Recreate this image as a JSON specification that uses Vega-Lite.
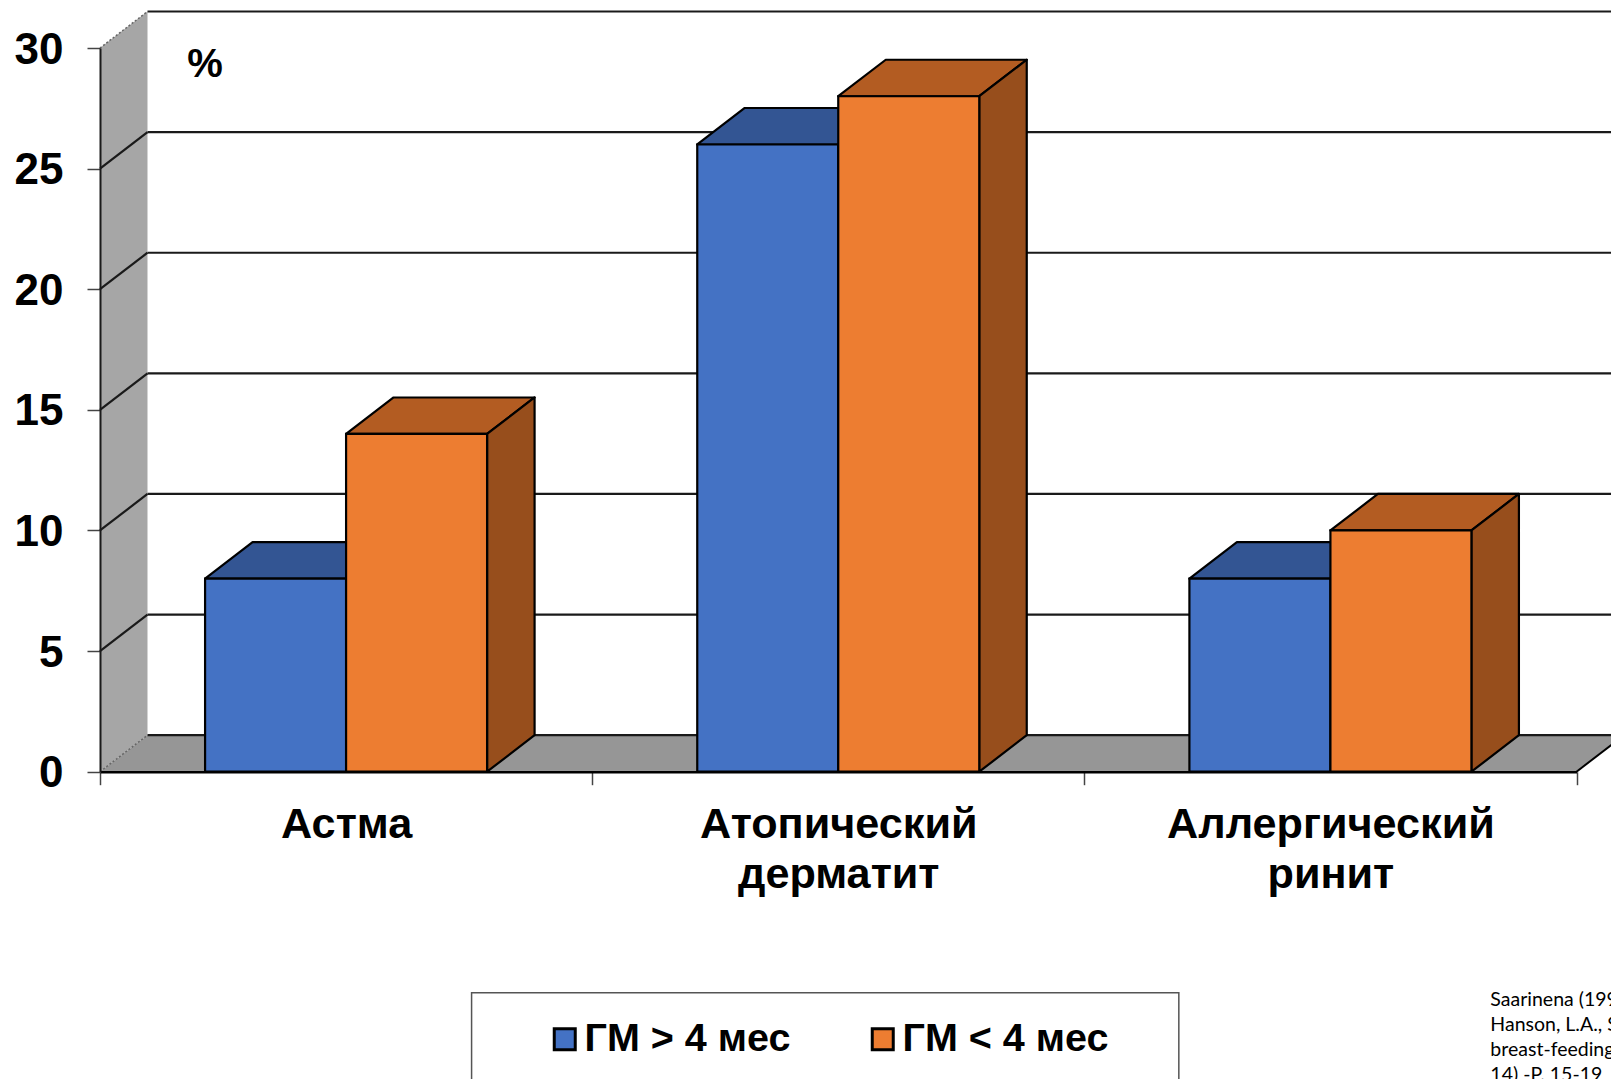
{
  "$schema": "https://vega.github.io/schema/vega-lite/v6.json",
  "width": 1476.5,
  "height": 723.7,
  "autosize": {"type": "none"},
  "padding": {"left": 100, "top": 48, "right": 34.5, "bottom": 307.3},
  "background": "white",
  "config": {
    "view": {"stroke": null},
    "font": "Liberation Sans"
  },
  "datasets": {
    "bars": [
      {"category": "Астма", "series": "ГМ > 4 мес", "value": 8},
      {"category": "Астма", "series": "ГМ < 4 мес", "value": 14},
      {"category": "Атопический дерматит", "series": "ГМ > 4 мес", "value": 26},
      {"category": "Атопический дерматит", "series": "ГМ < 4 мес", "value": 28},
      {"category": "Аллергический ринит", "series": "ГМ > 4 мес", "value": 8},
      {"category": "Аллергический ринит", "series": "ГМ < 4 мес", "value": 10}
    ],
    "levels": [
      {"level": 0}, {"level": 5}, {"level": 10}, {"level": 15}, {"level": 20}, {"level": 25}, {"level": 30}
    ]
  },
  "resolve": {"scale": {"x": "independent", "color": "independent"}},
  "layer": [
    {
      "description": "Left wall of the chart box",
      "data": {"values": [{"t": 0}, {"t": 1}]},
      "transform": [
        {"calculate": "datum.t * 0.0965", "as": "xw"},
        {"calculate": "datum.t * 1.513", "as": "low"},
        {"calculate": "30 + datum.t * 1.513", "as": "high"}
      ],
      "mark": {"type": "area", "fill": "#A6A6A6", "stroke": null, "opacity": 1},
      "encoding": {
        "x": {"field": "xw", "type": "quantitative", "scale": {"domain": [0, 3], "nice": false}, "axis": null},
        "y": {
          "field": "low",
          "type": "quantitative",
          "title": null,
          "scale": {"domain": [0, 30], "nice": false},
          "axis": {
            "title": null,
            "values": [0, 5, 10, 15, 20, 25, 30],
            "grid": false,
            "zindex": 1,
            "domainColor": "#1a1a1a",
            "domainWidth": 2,
            "tickColor": "#444444",
            "tickWidth": 1.5,
            "tickSize": 13,
            "labelFont": "Liberation Sans",
            "labelFontWeight": "bold",
            "labelFontSize": 44,
            "labelColor": "black",
            "labelPadding": 24,
            "labelOffset": 2,
            "labelOverlap": false,
            "labelFlush": false
          }
        },
        "y2": {"field": "high"}
      }
    },
    {
      "description": "Floor of the chart box",
      "data": {"values": [{"t": 0}, {"t": 1}]},
      "transform": [
        {"calculate": "datum.t * 0.0965", "as": "xa"},
        {"calculate": "3 + datum.t * 0.0965", "as": "xb"},
        {"calculate": "datum.t * 1.513", "as": "yf"}
      ],
      "mark": {"type": "area", "orient": "horizontal", "fill": "#969696", "stroke": null, "opacity": 1},
      "encoding": {
        "x": {"field": "xa", "type": "quantitative", "scale": {"domain": [0, 3], "nice": false}, "axis": null},
        "x2": {"field": "xb"},
        "y": {"field": "yf", "type": "quantitative", "title": null}
      }
    },
    {
      "description": "Gridlines along the back wall",
      "data": {"name": "levels"},
      "transform": [
        {"calculate": "datum.level + 1.513", "as": "yb"},
        {"calculate": "0.0965", "as": "xa"},
        {"calculate": "3.0965", "as": "xb"}
      ],
      "mark": {"type": "rule", "stroke": "#1a1a1a", "strokeWidth": 2.2},
      "encoding": {
        "x": {"field": "xa", "type": "quantitative", "scale": {"domain": [0, 3], "nice": false}, "axis": null},
        "x2": {"field": "xb"},
        "y": {"field": "yb", "type": "quantitative", "title": null}
      }
    },
    {
      "description": "Gridlines climbing the left wall",
      "data": {"name": "levels"},
      "transform": [
        {"filter": "datum.level > 0 && datum.level < 30"},
        {"calculate": "datum.level + 1.513", "as": "yb"},
        {"calculate": "0", "as": "xa"},
        {"calculate": "0.0965", "as": "xb"}
      ],
      "mark": {"type": "rule", "stroke": "#1a1a1a", "strokeWidth": 2.2},
      "encoding": {
        "x": {"field": "xa", "type": "quantitative", "scale": {"domain": [0, 3], "nice": false}, "axis": null},
        "x2": {"field": "xb"},
        "y": {"field": "level", "type": "quantitative", "title": null},
        "y2": {"field": "yb"}
      }
    },
    {
      "description": "Dotted top and bottom edges of the left wall",
      "data": {"name": "levels"},
      "transform": [
        {"filter": "datum.level == 0 || datum.level == 30"},
        {"calculate": "datum.level + 1.513", "as": "yb"},
        {"calculate": "0", "as": "xa"},
        {"calculate": "0.0965", "as": "xb"}
      ],
      "mark": {"type": "rule", "stroke": "#666666", "strokeWidth": 1.5, "strokeDash": [2, 2]},
      "encoding": {
        "x": {"field": "xa", "type": "quantitative", "scale": {"domain": [0, 3], "nice": false}, "axis": null},
        "x2": {"field": "xb"},
        "y": {"field": "level", "type": "quantitative", "title": null},
        "y2": {"field": "yb"}
      }
    },
    {
      "description": "Right edge of the floor",
      "data": {"values": [{"xa": 3, "xb": 3.0965, "ya": 0, "yb": 1.513}]},
      "mark": {"type": "rule", "stroke": "black", "strokeWidth": 2},
      "encoding": {
        "x": {"field": "xa", "type": "quantitative", "scale": {"domain": [0, 3], "nice": false}, "axis": null},
        "x2": {"field": "xb"},
        "y": {"field": "ya", "type": "quantitative", "title": null},
        "y2": {"field": "yb"}
      }
    },
    {
      "description": "Invisible layer that carries the category axis",
      "data": {"name": "bars"},
      "mark": {"type": "rule", "opacity": 0},
      "encoding": {
        "x": {
          "field": "category",
          "type": "nominal",
          "sort": ["Астма", "Атопический дерматит", "Аллергический ринит"],
          "scale": {"paddingInner": 0, "paddingOuter": 0},
          "axis": {
            "title": null,
            "tickBand": "extent",
            "labelAngle": 0,
            "labelExpr": "split(datum.label, ' ')",
            "labelFont": "Liberation Sans",
            "labelFontWeight": "bold",
            "labelFontSize": 43.2,
            "labelLineHeight": 50,
            "labelColor": "black",
            "labelPadding": 19,
            "labelLimit": 600,
            "labelBaseline": "top",
            "labelOverlap": false,
            "labelFlush": false,
            "domainColor": "black",
            "domainWidth": 2.5,
            "tickColor": "#444444",
            "tickWidth": 1.5,
            "tickSize": 13,
            "zindex": 1
          }
        }
      }
    },
    {
      "description": "Top faces of the boxes",
      "data": {"name": "bars"},
      "transform": [
        {"calculate": "indexof(['Астма', 'Атопический дерматит', 'Аллергический ринит'], datum.category)", "as": "idx"},
        {"calculate": "datum.idx + 0.5 - (datum.series === 'ГМ > 4 мес' ? 0.2865 : 0)", "as": "left"},
        {"calculate": "[0, 1]", "as": "t"},
        {"flatten": ["t"]},
        {"calculate": "datum.left + datum.t * 0.0965", "as": "xa"},
        {"calculate": "datum.left + 0.2865 + datum.t * 0.0965", "as": "xb"},
        {"calculate": "datum.value + datum.t * 1.513", "as": "yt"}
      ],
      "mark": {"type": "area", "orient": "horizontal", "stroke": "black", "strokeWidth": 2.2, "strokeJoin": "round", "opacity": 1},
      "encoding": {
        "x": {"field": "xa", "type": "quantitative", "scale": {"domain": [0, 3], "nice": false}, "axis": null},
        "x2": {"field": "xb"},
        "y": {"field": "yt", "type": "quantitative", "title": null},
        "detail": {"field": "left"},
        "color": {
          "field": "series",
          "type": "nominal",
          "scale": {"domain": ["ГМ > 4 мес", "ГМ < 4 мес"], "range": ["#335593", "#B35C22"]},
          "legend": null
        }
      }
    },
    {
      "description": "Side faces of the boxes",
      "data": {"name": "bars"},
      "transform": [
        {"calculate": "indexof(['Астма', 'Атопический дерматит', 'Аллергический ринит'], datum.category)", "as": "idx"},
        {"calculate": "datum.idx + 0.5 - (datum.series === 'ГМ > 4 мес' ? 0.2865 : 0)", "as": "left"},
        {"calculate": "[0, 1]", "as": "t"},
        {"flatten": ["t"]},
        {"calculate": "datum.left + 0.2865 + datum.t * 0.0965", "as": "xs"},
        {"calculate": "datum.value + datum.t * 1.513", "as": "yhigh"},
        {"calculate": "datum.t * 1.513", "as": "ylow"}
      ],
      "mark": {"type": "area", "stroke": "black", "strokeWidth": 2.2, "strokeJoin": "round", "opacity": 1},
      "encoding": {
        "x": {"field": "xs", "type": "quantitative", "scale": {"domain": [0, 3], "nice": false}, "axis": null},
        "y": {"field": "yhigh", "type": "quantitative", "title": null},
        "y2": {"field": "ylow"},
        "detail": {"field": "left"},
        "color": {
          "field": "series",
          "type": "nominal",
          "scale": {"domain": ["ГМ > 4 мес", "ГМ < 4 мес"], "range": ["#2F4A80", "#974E1C"]},
          "legend": null
        }
      }
    },
    {
      "description": "Frame around the legend",
      "data": {"values": [{"x0": 0.755, "x1": 2.192, "y0": -9.163, "y1": -15}]},
      "mark": {"type": "rect", "fill": "white", "stroke": "#555555", "strokeWidth": 1.5},
      "encoding": {
        "x": {"field": "x0", "type": "quantitative", "scale": {"domain": [0, 3], "nice": false}, "axis": null},
        "x2": {"field": "x1"},
        "y": {"field": "y0", "type": "quantitative", "title": null},
        "y2": {"field": "y1"}
      }
    },
    {
      "description": "Front faces of the boxes, with the series legend",
      "data": {"name": "bars"},
      "transform": [
        {"calculate": "indexof(['Астма', 'Атопический дерматит', 'Аллергический ринит'], datum.category)", "as": "idx"},
        {"calculate": "datum.idx + 0.5 - (datum.series === 'ГМ > 4 мес' ? 0.2865 : 0)", "as": "left"},
        {"calculate": "datum.left + 0.2865", "as": "right"},
        {"calculate": "0", "as": "base"}
      ],
      "mark": {"type": "rect", "stroke": "black", "strokeWidth": 2.2, "opacity": 1},
      "encoding": {
        "x": {"field": "left", "type": "quantitative", "scale": {"domain": [0, 3], "nice": false}, "axis": null},
        "x2": {"field": "right"},
        "y": {"field": "value", "type": "quantitative", "title": null},
        "y2": {"field": "base"},
        "color": {
          "field": "series",
          "type": "nominal",
          "scale": {"domain": ["ГМ > 4 мес", "ГМ < 4 мес"], "range": ["#4472C4", "#ED7D31"]},
          "legend": {
            "title": null,
            "orient": "none",
            "legendX": 445,
            "legendY": 971,
            "direction": "horizontal",
            "columns": 2,
            "padding": 0,
            "columnPadding": 72,
            "symbolType": "square",
            "symbolSize": 441,
            "symbolStrokeColor": "black",
            "symbolStrokeWidth": 3,
            "symbolOpacity": 1,
            "labelFont": "Liberation Sans",
            "labelFontWeight": "bold",
            "labelFontSize": 39.5,
            "labelColor": "black",
            "labelOffset": 0,
            "labelLimit": 400
          }
        }
      }
    },
    {
      "description": "Unit marker in the corner of the back wall",
      "data": {"values": [{"label": "%", "xp": 0.2133, "yp": 29.3}]},
      "mark": {"type": "text", "font": "Liberation Sans", "fontWeight": "bold", "fontSize": 40, "color": "black", "align": "center", "baseline": "middle"},
      "encoding": {
        "x": {"field": "xp", "type": "quantitative", "scale": {"domain": [0, 3], "nice": false}, "axis": null},
        "y": {"field": "yp", "type": "quantitative", "title": null},
        "text": {"field": "label"}
      }
    },
    {
      "description": "Source citation",
      "data": {"values": [{"label": "Saarinena (199\nHanson, L.A., S\nbreast-feeding\n14) -P. 15-19", "xp": 2.825, "yp": -9.714}]},
      "mark": {
        "type": "text",
        "lineBreak": "\n",
        "lineHeight": 25.1,
        "font": "Lato",
        "fontSize": 19.5,
        "color": "black",
        "align": "left",
        "baseline": "alphabetic"
      },
      "encoding": {
        "x": {"field": "xp", "type": "quantitative", "scale": {"domain": [0, 3], "nice": false}, "axis": null},
        "y": {"field": "yp", "type": "quantitative", "title": null},
        "text": {"field": "label"}
      }
    }
  ]
}
